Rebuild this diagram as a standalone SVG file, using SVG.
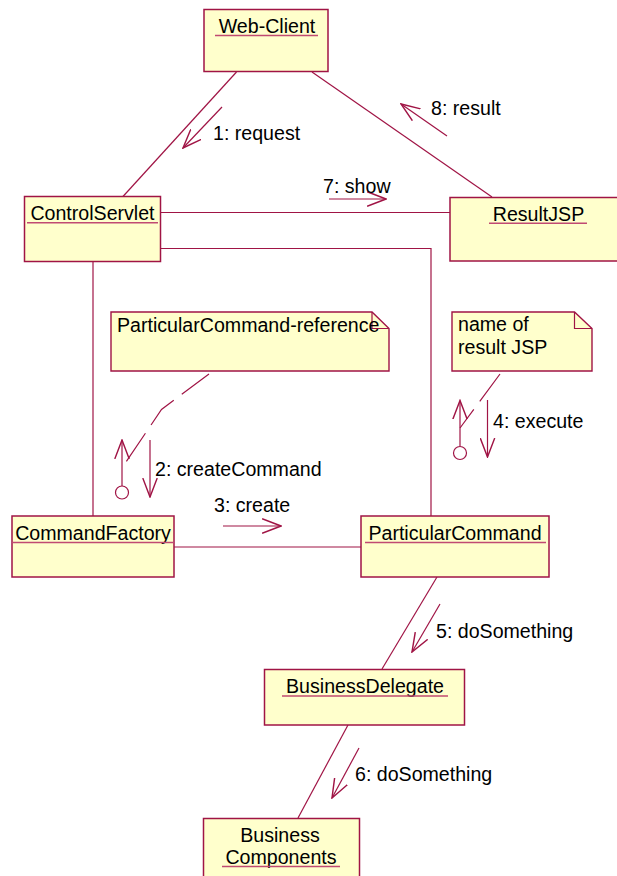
<svg xmlns="http://www.w3.org/2000/svg" width="617" height="876" viewBox="0 0 617 876">
<style>
.box{fill:#ffffcc;stroke:#a01445;stroke-width:1.5}
.note{fill:#ffffcc;stroke:#a01445;stroke-width:1.4}
.ul{stroke:#c04a72;stroke-width:1.5}
.ln{fill:none;stroke:#a01445;stroke-width:1.2}
.dash{fill:none;stroke:#a01445;stroke-width:1.2;stroke-dasharray:34 10}
.msg{fill:none;stroke:#a01445;stroke-width:1.2;marker-end:url(#arr)}
.t{font-family:"Liberation Sans",Arial,sans-serif;font-size:19.6px;fill:#000}
.c{text-anchor:middle}
</style>
<defs>
<marker id="arr" markerUnits="userSpaceOnUse" markerWidth="20" markerHeight="16" viewBox="0 0 18 14" refX="17" refY="7" orient="auto">
<path d="M0,0.5 L17,7 L0,13.5" fill="none" stroke="#a01445" stroke-width="1.3"/>
</marker>
</defs>
<rect width="617" height="876" fill="#ffffff"/>

<g id="connectors">
<line class="ln" x1="236.5" y1="72" x2="122.5" y2="197"/>
<line class="ln" x1="312" y1="72" x2="492" y2="197"/>
<line class="ln" x1="161" y1="212.5" x2="450" y2="212.5"/>
<polyline class="ln" points="161,248.5 431,248.5 431,516"/>
<line class="ln" x1="93" y1="262" x2="93" y2="516"/>
<line class="ln" x1="174" y1="547" x2="361" y2="547"/>
<line class="ln" x1="437" y1="577" x2="382" y2="669"/>
<line class="ln" x1="348" y1="725" x2="298" y2="818"/>
<polyline class="dash" points="209,374 161.5,409.5 124,465"/>
<line class="dash" x1="500" y1="374" x2="460" y2="428"/>
<line class="msg" x1="222" y1="107" x2="183" y2="148"/>
<line class="msg" x1="447" y1="136" x2="401" y2="104"/>
<line class="msg" x1="329" y1="199" x2="386" y2="199"/>
<line class="msg" x1="150" y1="440" x2="150" y2="497"/>
<line class="msg" x1="223" y1="526" x2="281" y2="526"/>
<line class="msg" x1="487.5" y1="400" x2="487.5" y2="457"/>
<line class="msg" x1="440" y1="604" x2="412" y2="652"/>
<line class="msg" x1="359" y1="748" x2="332" y2="798"/>
<line class="msg" x1="122" y1="486" x2="122" y2="440"/>
<circle class="ln" cx="122" cy="492.5" r="6.5" fill="#ffffff"/>
<line class="msg" x1="460" y1="446" x2="460" y2="400.5"/>
<circle class="ln" cx="460" cy="453" r="6.5" fill="#ffffff"/>
<text class="t" x="213" y="140">1: request</text>
<text class="t" x="431" y="115">8: result</text>
<text class="t" x="323" y="193">7: show</text>
<text class="t" x="155" y="476">2: createCommand</text>
<text class="t" x="214" y="511.5">3: create</text>
<text class="t" x="493" y="428">4: execute</text>
<text class="t" x="436" y="638">5: doSomething</text>
<text class="t" x="355" y="781">6: doSomething</text>
</g>

<g id="web-client">
<rect class="box" x="204" y="9.5" width="124" height="62"/>
<text class="t c" x="267" y="33.3">Web-Client</text>
<line class="ul" x1="215" y1="35.5" x2="318" y2="35.5"/>
</g>

<g id="control-servlet">
<rect class="box" x="24.5" y="196.5" width="136" height="65"/>
<text class="t c" x="92.5" y="220">ControlServlet</text>
<line class="ul" x1="27" y1="222.8" x2="158" y2="222.8"/>
</g>

<g id="result-jsp">
<rect class="box" x="450" y="197.5" width="180" height="63.5"/>
<text class="t c" x="538.5" y="220.7">ResultJSP</text>
<line class="ul" x1="489" y1="223.3" x2="587" y2="223.3"/>
</g>

<g id="note-reference">
<path class="note" d="M111,312 L372,312 L389,328.5 L389,371 L111,371 Z"/>
<polyline class="ln" points="372,312 372,328.5 389,328.5"/>
<text class="t" x="117" y="331.7">ParticularCommand-reference</text>
</g>

<g id="note-result">
<path class="note" d="M452,312 L574.5,312 L592,328.5 L592,371 L452,371 Z"/>
<polyline class="ln" points="574.5,312 574.5,328.5 592,328.5"/>
<text class="t" x="458" y="331">name of</text>
<text class="t" x="458" y="354">result JSP</text>
</g>

<g id="command-factory">
<rect class="box" x="12" y="516" width="162" height="61"/>
<text class="t c" x="93" y="540">CommandFactory</text>
<line class="ul" x1="12" y1="542.5" x2="174" y2="542.5"/>
</g>

<g id="particular-command">
<rect class="box" x="361" y="516" width="188" height="61"/>
<text class="t c" x="455" y="540">ParticularCommand</text>
<line class="ul" x1="365" y1="542.5" x2="546" y2="542.5"/>
</g>

<g id="business-delegate">
<rect class="box" x="264.5" y="669.5" width="200" height="55.5"/>
<text class="t c" x="365" y="693">BusinessDelegate</text>
<line class="ul" x1="282" y1="696" x2="448" y2="696"/>
</g>

<g id="business-components">
<rect class="box" x="203.5" y="818.5" width="156" height="70"/>
<text class="t c" x="280" y="842">Business</text>
<text class="t c" x="281" y="864">Components</text>
<line class="ul" x1="222" y1="866.5" x2="340" y2="866.5"/>
</g>
</svg>
